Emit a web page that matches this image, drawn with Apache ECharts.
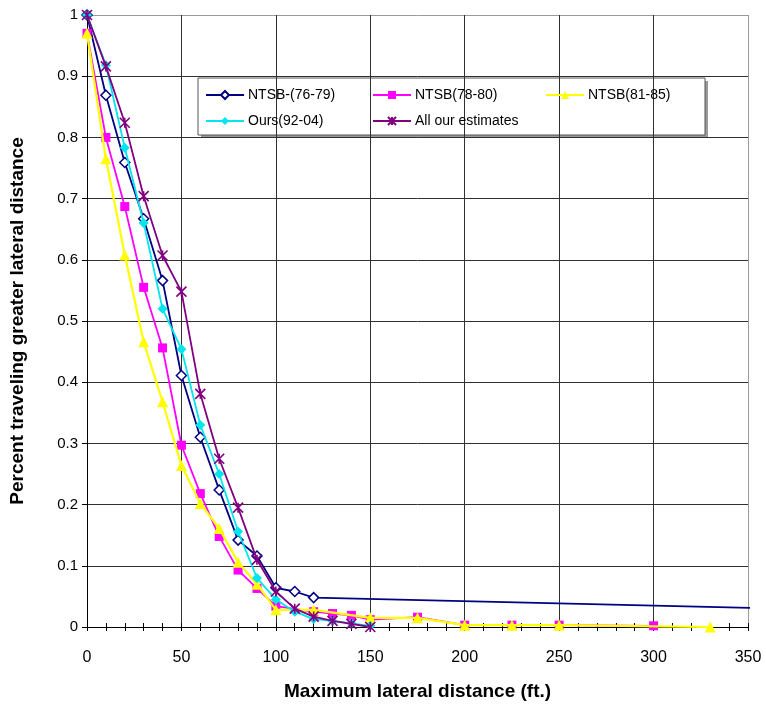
<!DOCTYPE html>
<html>
<head>
<meta charset="utf-8">
<script src="https://cdn.jsdelivr.net/npm/echarts@6/dist/echarts.min.js"></script>
<style>html,body{margin:0;padding:0;background:#fff}#c{width:766px;height:706px}</style>
</head>
<body>
<div id="c"></div>
<script>
// Data: [distance ft, fraction]
const ntsb7679 = [[0,1.0],[10,0.869],[20,0.759],[30,0.667],[40,0.566],[50,0.411],[60,0.31],[70,0.224],[80,0.142],[90,0.116],[100,0.064],[110,0.058],[120,0.048],[353,0.031]];
const ntsb7880 = [[0,0.97],[10,0.80],[20,0.687],[30,0.555],[40,0.456],[50,0.297],[60,0.218],[70,0.148],[80,0.093],[90,0.063],[100,0.034],[120,0.025],[130,0.022],[140,0.019],[150,0.012],[175,0.016],[200,0.003],[225,0.003],[250,0.003],[300,0.002]];
const ntsb8185 = [[0,0.97],[10,0.765],[20,0.608],[30,0.466],[40,0.368],[50,0.264],[60,0.202],[70,0.161],[80,0.106],[90,0.07],[100,0.028],[120,0.028],[150,0.015],[175,0.015],[200,0.003],[225,0.003],[250,0.003],[330,0.0]];
const ours9204 = [[0,1.0],[10,0.918],[20,0.783],[30,0.66],[40,0.52],[50,0.454],[60,0.33],[70,0.25],[80,0.156],[90,0.08],[100,0.045],[110,0.025],[120,0.013],[130,0.01],[140,0.006],[150,0.002]];
const allEst = [[0,1.0],[10,0.916],[20,0.824],[30,0.704],[40,0.607],[50,0.548],[60,0.381],[70,0.275],[80,0.195],[90,0.11],[100,0.058],[110,0.03],[120,0.017],[130,0.01],[140,0.005],[150,0.0]];
const xTicks = [0,50,100,150,200,250,300,350];
const yTicks = [0,0.1,0.2,0.3,0.4,0.5,0.6,0.7,0.8,0.9,1];

const names = ['NTSB-(76-79)','NTSB(78-80)','NTSB(81-85)','Ours(92-04)','All our estimates'];
const star = 'path://M0,0L10,10M10,0L0,10M5,0L5,10';
const font = 'Liberation Sans, Arial, sans-serif';

// last NTSB-(76-79) point drawn without a marker
const navyData = ntsb7679.map((p,i)=> i===ntsb7679.length-1 ? {value:p, symbol:'none'} : {value:p});

const gridColors = yTicks.map((v,i)=> i===yTicks.length-1 ? '#9a9a9a' : '#303030');
const xGridColors = xTicks.map((v,i)=> i===xTicks.length-1 ? '#9a9a9a' : '#303030');

function legendItem(idx, left, top){
  return {
    data:[names[idx]], left:left, top:top, orient:'horizontal',
    itemWidth:38, itemHeight:10, itemGap:6, selectedMode:false,
    textStyle:{fontFamily:font, fontSize:14, color:'#000', padding:[0,0,0,-1]},
    padding:0
  };
}

const chart = echarts.init(document.getElementById('c'), null, {renderer:'canvas'});
chart.setOption({
  backgroundColor:'#fff',
  animation:false,
  grid:{left:86, right:18, top:15, bottom:77, show:false},
  xAxis:[{
    type:'value', min:0, max:350, interval:50,
    axisLine:{show:true, onZero:false, lineStyle:{color:'#000', width:1}},
    axisTick:{show:true, length:4, lineStyle:{color:'#000'}},
    minorTick:{show:true, splitNumber:5, length:4, lineStyle:{color:'#000'}},
    axisLabel:{fontFamily:font, fontSize:16, color:'#000', margin:23},
    splitLine:{show:true, lineStyle:{color:xGridColors, width:1}},
    name:'Maximum lateral distance (ft.)', nameLocation:'middle', nameGap:55,
    nameTextStyle:{fontFamily:font, fontSize:19, fontWeight:'bold', color:'#000'}
  },{
    type:'value', min:0, max:350, interval:50, position:'bottom',
    axisLine:{show:false}, axisLabel:{show:false}, splitLine:{show:false},
    axisTick:{show:true, inside:true, length:4, lineStyle:{color:'#000'}},
    minorTick:{show:true, splitNumber:5, length:4, lineStyle:{color:'#000'}}
  }],
  yAxis:{
    type:'value', min:0, max:1, interval:0.1,
    axisLine:{show:true, lineStyle:{color:'#000', width:1}},
    axisTick:{show:true, length:5, lineStyle:{color:'#000'}},
    axisLabel:{fontFamily:font, fontSize:15, color:'#000', margin:9,
      formatter:v=>String(parseFloat(v.toFixed(1)))},
    splitLine:{show:true, lineStyle:{color:gridColors, width:1}},
    name:'Percent traveling greater lateral distance', nameLocation:'middle', nameGap:60,
    nameTextStyle:{fontFamily:font, fontSize:19, fontWeight:'bold', color:'#000'}
  },
  legend:[
    legendItem(0, 205, 88),
    legendItem(1, 372, 88),
    legendItem(2, 545, 88),
    legendItem(3, 205, 114),
    legendItem(4, 372, 114)
  ],
  graphic:[
    {type:'rect', shape:{x:201, y:81, width:507, height:57}, style:{fill:'#9a9a9a'}, z:0, zlevel:0},
    {type:'rect', shape:{x:198, y:78, width:507, height:57}, style:{fill:'#fff', stroke:'#555', lineWidth:1}, z:0, zlevel:0}
  ],
  series:[
    {name:names[0], type:'line', data:navyData, clip:false,
      symbol:'diamond', symbolSize:10, showAllSymbol:true,
      lineStyle:{color:'#000080', width:1.8},
      itemStyle:{color:'#fff', borderColor:'#000080', borderWidth:1.5}, z:2},
    {name:names[1], type:'line', data:ntsb7880,
      symbol:'rect', symbolSize:9,
      lineStyle:{color:'#ff00ff', width:1.8},
      itemStyle:{color:'#ff00ff', borderColor:'#ff00ff', borderWidth:0}, z:3},
    {name:names[2], type:'line', data:ntsb8185,
      symbol:'triangle', symbolSize:11,
      lineStyle:{color:'#ffff00', width:2.2},
      itemStyle:{color:'#ffff00', borderColor:'#ffff00', borderWidth:0}, z:4},
    {name:names[3], type:'line', data:ours9204,
      symbol:'diamond', symbolSize:10,
      lineStyle:{color:'#00e5ee', width:1.8},
      itemStyle:{color:'#00e5ee', borderColor:'#00e5ee', borderWidth:0}, z:5},
    {name:names[4], type:'line', data:allEst,
      symbol:star, symbolSize:10,
      lineStyle:{color:'#800080', width:1.8},
      itemStyle:{color:'#800080', borderColor:'#800080', borderWidth:1.6}, z:6}
  ]
});
</script>
</body>
</html>
